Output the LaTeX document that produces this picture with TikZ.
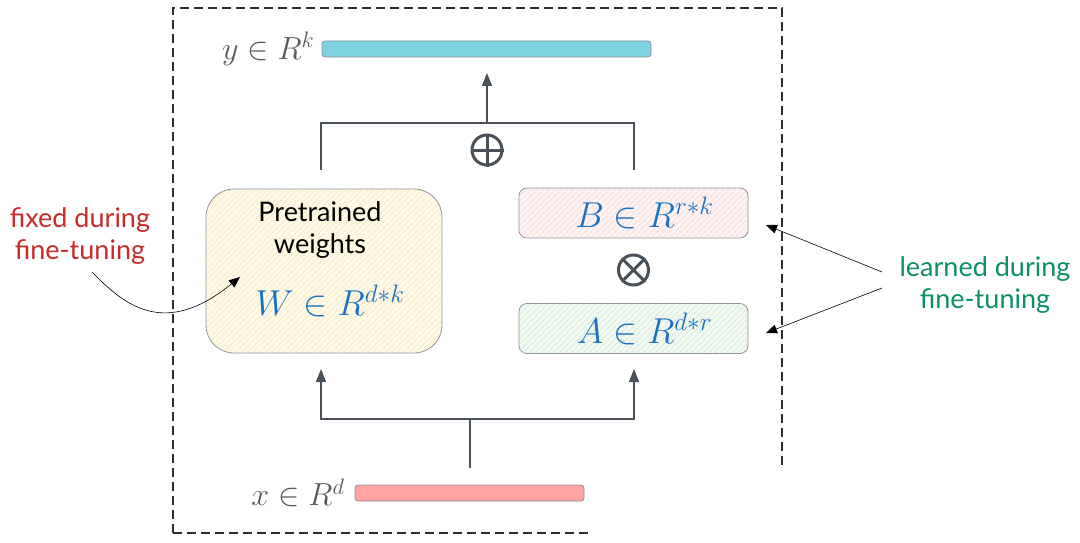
\RequirePackage{fix-cm}
\documentclass[tikz,border=0pt]{standalone}
\usepackage{fontspec}
\usepackage{xcolor}
\usetikzlibrary{positioning,arrows.meta,patterns.meta}
\newfontfamily\handfont{Lato}

\definecolor{linegray}{HTML}{495057}
\definecolor{boxline}{HTML}{8C9197}
\definecolor{labelgray}{HTML}{555A60}
\definecolor{mathblue}{HTML}{1971C2}
\definecolor{fixred}{HTML}{C92A2A}
\definecolor{learngreen}{HTML}{0C8F62}
\definecolor{outcyan}{HTML}{7DD3DF}
\definecolor{inred}{HTML}{FFA3A3}
\definecolor{wfill}{HTML}{FDF9E6}
\definecolor{whatch}{HTML}{F1E3A8}
\definecolor{bfill}{HTML}{FDF3F3}
\definecolor{bhatch}{HTML}{F6C9C9}
\definecolor{afill}{HTML}{F0F8F1}
\definecolor{ahatch}{HTML}{BFE3C8}

\tikzset{
	bar/.style={draw=boxline, line width=0.8pt, rounded corners=3pt, minimum height=16pt, inner sep=0pt},
	vlabel/.style={text=labelgray, inner sep=0pt, font=\fontsize{32}{36}\selectfont},
	mbox/.style={draw=boxline, line width=0.8pt, inner sep=0pt},
	mtext/.style={text=mathblue, inner sep=0pt, font=\fontsize{36}{40}\selectfont},
	hatch/.style 2 args={fill=#1, postaction={pattern={Lines[angle=45,distance=4pt,line width=0.6pt]}, pattern color=#2}},
	opcircle/.style={circle, draw=linegray, line width=3pt, minimum size=30pt, inner sep=0pt},
	flow/.style={draw=linegray, line width=1.6pt},
	flowarrow/.style={flow, -{Triangle[width=10pt,length=13pt]}},
	note/.style={draw=black, line width=0.6pt, -{Triangle[width=9pt,length=11pt]}},
	frame/.style={dash pattern=on 9pt off 5pt, line width=2pt, color=black!82},
	hand/.style={font=\handfont\fontsize{27}{32}\selectfont, align=center, inner sep=0pt}
}

\begin{document}
\begin{tikzpicture}[x=1pt, y=-1pt]
		\useasboundingbox (0,0) rectangle (1080,543);
		
		%frame
		\draw[frame] (173,533) -- (173,8) -- (782,8) -- (782,470);
		\draw[frame] (173,533) -- (592,533);
		
		%vectors
		\node[bar, fill=outcyan, minimum width=329pt] (ybar) at (486.5,49) {};
		\node[vlabel, left=7pt of ybar] (ylabel) {$y \in R^k$};
		\node[bar, fill=inred, minimum width=229pt] (xbar) at (469.5,493) {};
		\node[vlabel, left=10pt of xbar] (xlabel) {$x \in R^d$};
		
		%blocks
		\node[mbox, hatch={wfill}{whatch}, rounded corners=28pt, minimum width=236pt, minimum height=164pt] (wbox) at (324,271) {};
		\node[hand] (wtext) at (320,230) {Pretrained\\weights};
		\node[mtext] (wmath) at (330,301) {$W \in R^{d*k}$};
		\node[mbox, hatch={bfill}{bhatch}, rounded corners=8pt, minimum width=229pt, minimum height=50pt] (bbox) at (633.5,213) {};
		\node[mtext] (bmath) at ([xshift=11pt]bbox.center) {$B \in R^{r*k}$};
		\node[mbox, hatch={afill}{ahatch}, rounded corners=8pt, minimum width=229pt, minimum height=50pt] (abox) at (633.5,328.5) {};
		\node[mtext] (amath) at ([xshift=11pt]abox.center) {$A \in R^{d*r}$};
		
		%operators
		\node[opcircle] (plus) at (487,150) {};
		\draw[linegray, line width=3pt] (plus.north) -- (plus.south);
		\draw[linegray, line width=3pt] (plus.west) -- (plus.east);
		\node[opcircle] (times) at (633.5,270) {};
		\draw[linegray, line width=3pt] (times.45) -- (times.225);
		\draw[linegray, line width=3pt] (times.135) -- (times.315);
		
		%flow up
		\coordinate (wtop) at (321,170);
		\coordinate (btop) at (634,170);
		\coordinate (tee) at (487,123);
		\coordinate (ytip) at (487,73);
		\draw[flow] (wtop) |- (tee) -| (btop);
		\draw[flowarrow] (tee) -- (ytip);
		
		\coordinate (xtop) at (470,468);
		\coordinate (fork) at (470,419);
		\coordinate (wtip) at (321,369);
		\coordinate (atip) at (634,369);
		\draw[flow] (xtop) -- (fork);
		\draw[flowarrow] (fork) -| (wtip);
		\draw[flowarrow] (fork) -| (atip);
		
		%notes
		\node[hand, text=fixred] (fixed) at (80,236) {fixed during\\fine-tuning};
		\coordinate (fixstart) at (92,272);
		\coordinate (fixtip) at (240,277);
		\draw[note] (fixstart) .. controls (125,306) and (165,338) .. (fixtip);
		
		\node[hand, text=learngreen] (learned) at (985,285) {learned during\\fine-tuning};
		\coordinate (learnb) at (882,272);
		\coordinate (learna) at (882,288);
		\coordinate (btip) at (766,225);
		\coordinate (atip2) at (766,333);
		\draw[note] (learnb) -- (btip);
		\draw[note] (learna) -- (atip2);
\end{tikzpicture}
\end{document}
